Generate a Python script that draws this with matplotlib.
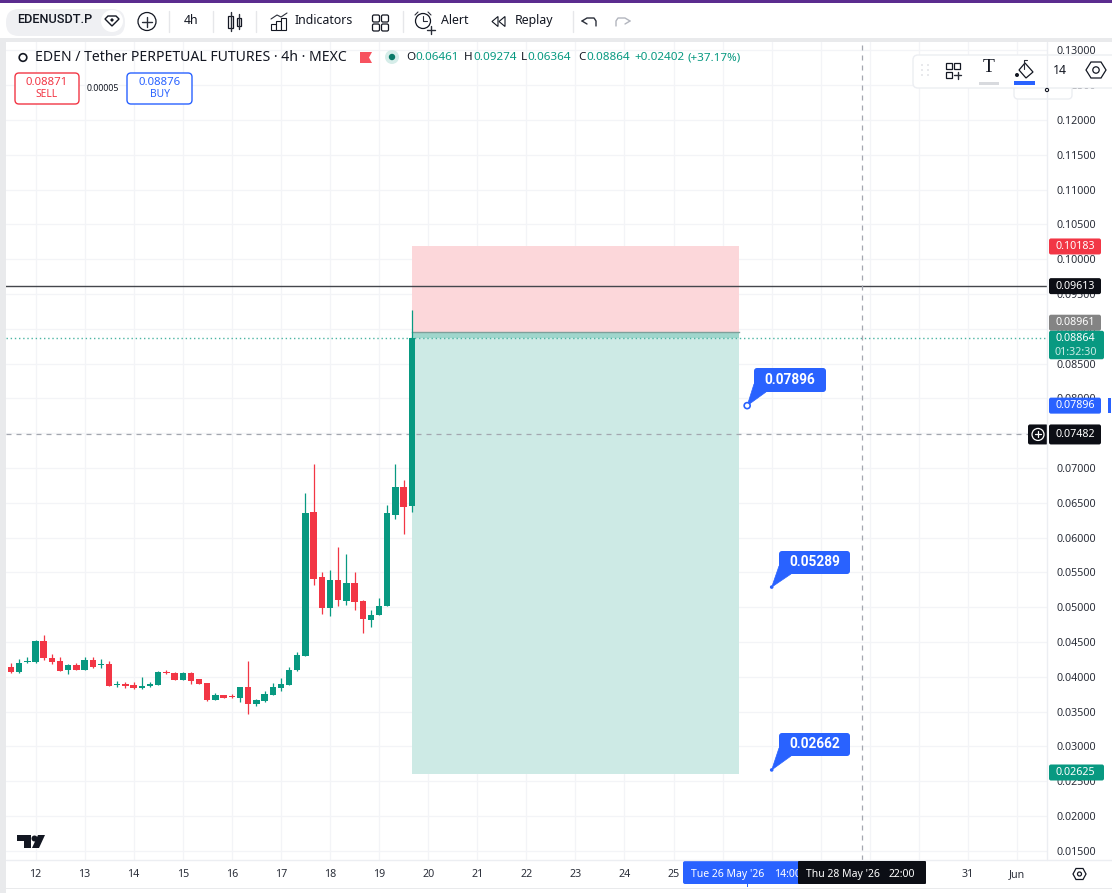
import numpy as np
import matplotlib
matplotlib.use("Agg")
import matplotlib.pyplot as plt
from matplotlib.patches import Circle, FancyBboxPatch, Polygon, Rectangle

plt.rcParams['font.family'] = ['Noto Sans', 'DejaVu Sans']

# Candles, 4h
opens = [.04141, .04074, .04208, .04208, .04514, .04275, .04222, .04098, .04165, .04102,
         .04241, .04165, .04179, .03887, .03896, .03882, .03834, .03863, .03887, .04074,
         .04059, .03954, .04059, .03963, .03906, .03671, .03734, .03724, .03700, .03858,
         .03609, .03652, .03738, .03839, .03887, .04098, .04299, .06368, .05429, .04994,
         .05391, .05089, .05353, .05085, .04816, .04883, .05022, .06325, .06727, .06461]
highs = [.04203, .04251, .04280, .04529, .04601, .04327, .04289, .04179, .04193, .04280,
         .04289, .04251, .04232, .03944, .03930, .03930, .03992, .03920, .04088, .04098,
         .04074, .04065, .04069, .03973, .03916, .03767, .03743, .03748, .03853, .04227,
         .03681, .03801, .03906, .03978, .04146, .04361, .06646, .07058, .05511, .05535,
         .05865, .05760, .05511, .05104, .04960, .05128, .06469, .07058, .06828, .09274]
lows = [.04060, .04050, .04203, .04193, .04241, .04184, .04080, .04040, .04098, .04098,
        .04131, .04131, .03870, .03853, .03839, .03825, .03830, .03858, .03887, .04045,
        .03954, .03950, .03896, .03896, .03657, .03667, .03695, .03700, .03633, .03465,
        .03580, .03643, .03734, .03791, .03887, .04088, .04299, .05314, .04902, .04879,
        .05022, .05032, .04960, .04625, .04720, .04883, .05022, .06272, .06052, .06364]
closes = [.04074, .04203, .04222, .04514, .04265, .04208, .04088, .04170, .04102, .04246,
          .04141, .04179, .03873, .03896, .03873, .03834, .03868, .03892, .04074, .04055,
          .03954, .04059, .03940, .03901, .03667, .03734, .03700, .03710, .03853, .03604,
          .03667, .03748, .03853, .03896, .04098, .04313, .06349, .05410, .04994, .05391,
          .05104, .05353, .05075, .04831, .04893, .05013, .06349, .06727, .06445, .08864]

# Price levels
price_ticks = [.13, .125, .12, .115, .11, .105, .10, .095, .09, .085, .08, .075, .07, .065,
               .06, .055, .05, .045, .04, .035, .03, .025, .02, .015]
stop_price = 0.10183
entry_price = 0.08961
target_price = 0.02625
box_bottom = 0.02608
last_price = 0.08864
black_line_price = 0.09613
cross_price = 0.07482
box_start = 49
box_end = 89
cross_index = 104

# Time axis, one label per day, 6 candles a day
day_ticks = [3 + 6 * d for d in range(21)]
day_labels = ['12', '13', '14', '15', '16', '17', '18', '19', '20', '21', '22', '23', '24', '25',
              '', '', '', '', '', '31', 'Jun']

# Callouts: index, price
callout_idx = [90, 93, 93]
callout_price = [0.07896, 0.05289, 0.02662]

GREEN = '#089981'
RED = '#f23645'
BLUE = '#2962ff'
INK = '#131722'
GRID = '#f3f4f7'
CROSS = '#a3a6af'
BAR_STEP = 8.18

fig = plt.figure(figsize=(11.12, 8.93), dpi=100, facecolor='white')
W, H = 1112, 893


def px_rect(x0, y0, x1, y1):
    return [x0 / W, 1 - y1 / H, (x1 - x0) / W, (y1 - y0) / H]


# price/candle axes: pixels come from y = 120 + (0.12 - p) * 6960, x = 35.5 + (i - 3) * BAR_STEP
left, right, top, bottom = 6, 1047, 42, 860
ax = fig.add_axes(px_rect(left, top, right, bottom))
ax.set_xlim(3 + (left - 35.5) / BAR_STEP, 3 + (right - 35.5) / BAR_STEP)
ax.set_ylim(0.12 - (bottom - 120) / 6960, 0.12 - (top - 120) / 6960)
for s in ax.spines.values():
    s.set_visible(False)
ax.set_xticks(day_ticks, day_labels)
ax.set_yticks(price_ticks, [f'{p:.5f}' for p in price_ticks])
ax.yaxis.tick_right()
ax.tick_params(axis='both', length=0, labelsize=7.7, labelcolor='#2a2e39')
ax.tick_params(axis='x', pad=6.5)
ax.tick_params(axis='y', pad=6.5)
ax.grid(True, color=GRID, lw=0.9)
ax.set_axisbelow(True)

# Risk/reward box
ax.fill_between([box_start, box_end], entry_price, stop_price, color='#fcd7da', lw=0, zorder=1)
ax.fill_between([box_start, box_end], box_bottom, entry_price, color='#cdeae5', lw=0, zorder=1)
ax.fill_between([box_start, box_end], last_price, entry_price, color='#9fd6cc', lw=0, zorder=1.1)
ax.plot([box_start, box_end], [entry_price, entry_price], color='#7f9f9a', lw=1, zorder=1.2)

# Horizontal lines and crosshair
ax.axhline(black_line_price, color='#44464c', lw=1, zorder=2)
ax.axhline(last_price, color='#4bb5a3', lw=1, ls=(0, (1, 2)), zorder=2)
ax.axhline(cross_price, color=CROSS, lw=0.9, ls=(0, (4, 4)), zorder=2)
ax.axvline(cross_index, color=CROSS, lw=0.9, ls=(0, (4, 4)), zorder=2)

# Candles
idx = np.arange(len(opens))
o = np.array(opens)
c = np.array(closes)
colors = [GREEN if b >= a else RED for a, b in zip(opens, closes)]
ax.vlines(idx, lows, highs, colors=colors, lw=0.9, zorder=3)
ax.bar(idx, np.maximum(np.abs(c - o), 0.00012), bottom=np.minimum(o, c), width=0.78,
       color=colors, lw=0, zorder=4)

# Pixel overlay for the interface parts
ui = fig.add_axes([0, 0, 1, 1], facecolor='none', zorder=5)
ui.set_xlim(0, W)
ui.set_ylim(H, 0)
ui.axis('off')


def price_y(p):
    return 120 + (0.12 - p) * 6960


def idx_x(i):
    return 35.5 + (i - 3) * BAR_STEP


def rect(x0, y0, x1, y1, color, z=1):
    ui.add_patch(Rectangle((x0, y0), x1 - x0, y1 - y0, fc=color, ec='none', zorder=z))


def rbox(x0, y0, x1, y1, fc, ec='none', r=2.5, z=2, lw=1):
    ui.add_patch(FancyBboxPatch((x0 + r, y0 + r), x1 - x0 - 2 * r, y1 - y0 - 2 * r,
                                boxstyle=f'round,pad={r},rounding_size={r}', fc=fc, ec=ec, lw=lw, zorder=z))


def label(x, y, s, color=INK, size=7.7, ha='center', weight='normal', z=6, family=None):
    ui.text(x, y + 0.7, s, color=color, fontsize=size, ha=ha, va='center', fontweight=weight, zorder=z,
            family=family if family else ['Noto Sans', 'DejaVu Sans'])


def line(xs, ys, color='#2a2e39', lw=1, z=6):
    ui.plot(xs, ys, color=color, lw=lw, zorder=z, solid_capstyle='round')


# Frame: toolbar, strips, axis edges
rect(0, 0, W, 38, 'white')
rect(0, 0, W, 2.5, '#5b2c8f', z=2)
rect(0, 38, W, 42, '#e9eaec')
rect(0, 42, 5.5, 893, '#e9eaec')
rect(0, 887.5, W, 889, '#e9eaec')
line([1047, 1047], [42, 860], color='#eceef2')
line([6, 1112], [860, 860], color='#eceef2')

# Toolbar
rbox(6, 9, 125, 36, '#eff0f3', r=13)
label(54.5, 19, 'EDENUSDT.P', size=9.2, weight='medium', family='Roboto')
ui.add_patch(Circle((112, 21), 11, fc='white', ec='none', zorder=3))
ui.add_patch(Polygon([[105, 19], [108, 16], [116, 16], [119, 19], [112, 26]], fc='white', ec=INK, lw=1, zorder=6))
ui.add_patch(Polygon([[110, 20], [112, 18], [114, 20], [112, 22]], fc=INK, ec='none', zorder=6))
ui.add_patch(Circle((147, 21.5), 9, fc='white', ec=INK, lw=0.9, zorder=6))
line([142, 152], [21.5, 21.5])
line([147, 147], [16.5, 26.5])
label(191, 20, '4h', size=8.9)
for dx in [169, 212.5, 256, 402.5, 573]:
    line([dx, dx], [11, 32], color='#e6e7ea')
# candle icon
ui.add_patch(Rectangle((228, 16), 5, 12, fc='white', ec=INK, lw=0.9, zorder=6))
line([230.5, 230.5], [12, 31])
ui.add_patch(Rectangle((236.5, 18), 4, 8, fc='white', ec=INK, lw=0.9, zorder=6))
line([238.5, 238.5], [14, 29])
# indicators icon
for bx, bh in zip([271, 276, 281], [6, 9, 12]):
    ui.add_patch(Rectangle((bx, 30 - bh), 4.5, bh, fc='white', ec=INK, lw=0.8, zorder=6))
line([271, 277, 281, 287], [19, 15, 17, 13], lw=0.8)
label(295, 20, 'Indicators', size=8.9, ha='left')
for gx, gy in [(372.5, 15), (381.5, 15), (372.5, 24), (381.5, 24)]:
    ui.add_patch(FancyBboxPatch((gx + 1, gy + 1), 5, 5, boxstyle='round,pad=1,rounding_size=1.5',
                                fc='white', ec=INK, lw=0.9, zorder=6))
# alert icon
ui.add_patch(Circle((423, 21), 7.5, fc='white', ec=INK, lw=0.9, zorder=6))
line([423, 423, 427], [16, 21, 21], lw=0.8)
line([415, 418], [15, 12], lw=0.8)
line([428, 431], [12, 15], lw=0.8)
line([427, 435], [30, 30], lw=1)
line([431, 431], [26, 34], lw=1)
label(441, 20, 'Alert', size=8.9, ha='left')
ui.add_patch(Polygon([[492, 21.5], [498, 16.5], [498, 26.5]], fc='white', ec=INK, lw=0.8, zorder=6))
ui.add_patch(Polygon([[499, 21.5], [505, 16.5], [505, 26.5]], fc='white', ec=INK, lw=0.8, zorder=6))
label(515, 20, 'Replay', size=8.9, ha='left')
line([582, 587, 594, 596, 596], [21, 18, 18, 21, 26], lw=1)
line([582, 587], [21, 24], lw=1)
line([630, 625, 618, 616, 616], [21, 18, 18, 21, 26], color='#b2b5be', lw=1)
line([630, 625], [21, 24], color='#b2b5be', lw=1)

# Legend row
ui.add_patch(Circle((23, 57.5), 3.8, fc='none', ec=INK, lw=1.2, zorder=6))
label(35, 57, 'EDEN / Tether PERPETUAL FUTURES · 4h · MEXC', size=10.1, ha='left')
ui.add_patch(Polygon([[360, 52], [372, 52], [369, 57.5], [372, 63], [360, 63]], fc='#f7525f', ec='none', zorder=6))
ui.add_patch(Circle((392, 57), 7, fc='#d6ede9', ec='none', zorder=5))
ui.add_patch(Circle((392, 57), 3.2, fc='#0b7a68', ec='none', zorder=6))
for lx, s in [(406, 'O'), (464, 'H'), (521, 'L'), (578, 'C')]:
    label(lx, 57, s, size=8.4, ha='left')
for lx, s in [(415, '0.06461'), (473, '0.09274'), (527.5, '0.06364'), (586, '0.08864'),
              (634, '+0.02402'), (687, '(+37.17%)')]:
    label(lx, 57, s, color=GREEN, size=8.4, ha='left')

# Sell / buy buttons
rbox(15, 73, 79, 104, 'white', ec=RED, r=4)
label(47, 82, '0.08871', color=RED, size=8.2)
label(47, 94, 'SELL', color=RED, size=7.4)
label(103, 88, '0.00005', size=6.3)
rbox(127, 73, 192, 104, 'white', ec=BLUE, r=4)
label(160, 82, '0.08876', color=BLUE, size=8.2)
label(160, 94, 'BUY', color=BLUE, size=7.4)

# Drawing toolbar, top right
rbox(1014, 80, 1072, 99, 'white', ec='#eceef2', r=4, z=3)
ui.add_patch(Circle((1047, 90), 1.6, fc='white', ec=INK, lw=0.8, zorder=6))
rbox(913, 55, 1118, 88, 'white', ec='#eceef2', r=5, z=4)
for dx in [922, 928]:
    for dy in [65, 70, 75]:
        ui.add_patch(Circle((dx, dy), 0.6, fc='#b2b5be', ec='none', zorder=6))
for gx, gy in [(946, 63), (954, 63), (946, 72)]:
    ui.add_patch(Rectangle((gx, gy), 6, 6, fc='white', ec=INK, lw=0.9, zorder=6))
line([954, 961], [75, 75])
line([957.5, 957.5], [71.5, 78.5])
label(989, 67, 'T', size=14, family='Liberation Serif')
rect(979, 82, 999, 84.5, '#d8dade', z=6)
ui.add_patch(Polygon([[1025, 63], [1033, 72], [1026, 78], [1019, 70]], fc='white', ec=INK, lw=0.9, zorder=6))
line([1024, 1024, 1027], [69, 60, 60], lw=0.8)
ui.add_patch(Circle((1017, 75), 2, fc=INK, ec='none', zorder=6))
rect(1014, 81, 1035, 85, BLUE, z=6)
label(1060, 70, '14', size=8.9)
ui.add_patch(Polygon([[1086, 70], [1091, 62], [1101, 62], [1106, 70], [1101, 78], [1091, 78]],
                     fc='white', ec=INK, lw=0.9, zorder=6))
ui.add_patch(Circle((1096, 70), 3.2, fc='white', ec=INK, lw=0.9, zorder=6))

# Price axis labels on top of the ticks
tags = [(stop_price, RED, 0), (black_line_price, '#0c0e15', 0), (entry_price, '#848484', -8.8),
        (0.07896, BLUE, 0), (target_price, GREEN, 0)]
for p, col, shift in tags:
    yy = price_y(p) + shift
    x1 = 1104 if p == target_price else 1101
    rbox(1049, yy - 8, x1, yy + 8, col, r=2, z=5)
    label(1075.5, yy - 0.7, f'{p:.5f}', color='white')
yy = price_y(last_price)
rbox(1049, yy - 7.5, 1104, yy + 21, GREEN, r=2, z=5)
label(1075.5, yy, f'{last_price:.5f}', color='white')
label(1075.5, yy + 13.5, '01:32:30', color='#c9ebe5')
rect(1108, 398, 1111, 413, BLUE, z=5)
# plus button beside the crosshair price
yy = price_y(cross_price)
rbox(1028, yy - 10, 1048, yy + 10, '#0c0e15', r=2, z=5)
rbox(1049, yy - 10, 1101, yy + 10, '#0c0e15', r=2, z=5)
label(1075.5, yy - 0.7, f'{cross_price:.5f}', color='white')
ui.add_patch(Circle((1038, yy), 6, fc='none', ec='white', lw=0.9, zorder=6))
line([1035, 1041], [yy, yy], color='white', lw=0.9)
line([1038, 1038], [yy - 3, yy + 3], color='white', lw=0.9)

# Callouts
callout_boxes = [(754, 368, 826, 392), (779, 551, 850, 574), (779, 733, 850, 756)]
for i, p, (x0, y0, x1, y1) in zip(callout_idx, callout_price, callout_boxes):
    ax_x, ax_y = idx_x(i), price_y(p)
    ui.add_patch(Polygon([[ax_x, ax_y], [x0, y1 - 8], [x0 + 12, y1]], fc=BLUE, ec=BLUE, lw=0.5, zorder=6))
    rbox(x0, y0, x1, y1, BLUE, r=3, z=6)
    label((x0 + x1) / 2, (y0 + y1) / 2 - 1, f'{p:.5f}', color='white', size=9.8, weight='bold', z=7,
          family='Roboto')
ui.add_patch(Circle((idx_x(callout_idx[0]), price_y(callout_price[0])), 3, fc='white', ec=BLUE, lw=1.2, zorder=7))
for i, p in zip(callout_idx[1:], callout_price[1:]):
    ui.add_patch(Circle((idx_x(i), price_y(p)), 1.8, fc=BLUE, ec='none', zorder=7))

# Time axis labels under the crosshair and box end
rbox(683, 861, 800, 884, BLUE, r=2, z=5)
label(691, 874, "Tue 26 May '26", color='white', size=7.5, ha='left')
label(774, 874, '14:00', color='white', size=7.5, ha='left')
rect(746.5, 884, 747.5, 887, BLUE, z=5)
rbox(798, 861, 926, 884, '#0c0e15', r=1, z=6)
label(806, 874, "Thu 28 May '26", color='white', size=7.5, ha='left', z=7)
label(889, 874, '22:00', color='white', size=7.5, ha='left', z=7)

# Settings hexagon bottom right
ui.add_patch(Polygon([[1073, 874], [1076, 868.5], [1083, 868.5], [1086, 874], [1083, 879.5], [1076, 879.5]],
                     fc='white', ec=INK, lw=0.9, zorder=6))
ui.add_patch(Circle((1079.5, 874), 2, fc='white', ec=INK, lw=0.9, zorder=6))

# TradingView mark
ui.add_patch(Polygon([[17, 835], [31, 835], [31, 848], [24, 848], [24, 841], [17, 841]], fc=INK, ec='none', zorder=6))
ui.add_patch(Circle((34.5, 838.5), 3, fc=INK, ec='none', zorder=6))
ui.add_patch(Polygon([[38, 835], [45, 835], [39, 848], [32, 848]], fc=INK, ec='none', zorder=6))

fig.savefig('out.png', dpi=100)
